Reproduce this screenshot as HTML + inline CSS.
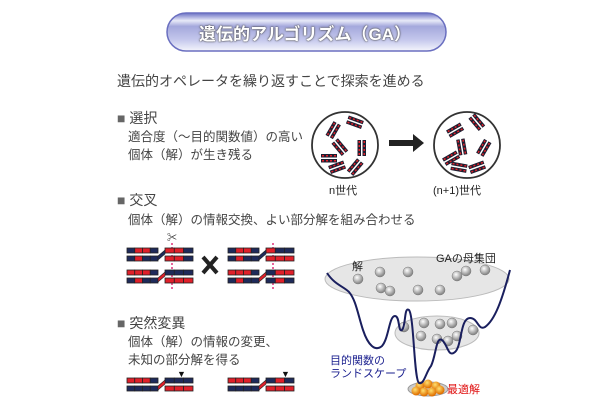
<!DOCTYPE html>
<html><head><meta charset="utf-8">
<style>
body{margin:0;background:#fff;}
#w{position:relative;width:610px;height:410px;overflow:hidden;font-family:"Liberation Sans","Noto Sans CJK JP",sans-serif;color:#444;}
.t{position:absolute;white-space:nowrap;}
</style></head><body><div id="w">
<svg width="610" height="410" style="position:absolute;left:0;top:0">
<defs>
<linearGradient id="pg" x1="0" y1="0" x2="0" y2="1">
<stop offset="0" stop-color="#6a70c4"/><stop offset="0.2" stop-color="#e8eaf8"/><stop offset="0.35" stop-color="#a4a8dc"/><stop offset="0.7" stop-color="#c4c7ec"/><stop offset="1" stop-color="#f4f5fc"/></linearGradient>
<radialGradient id="ball" cx="0.4" cy="0.35" r="0.6"><stop offset="0" stop-color="#fff"/><stop offset="1" stop-color="#888"/></radialGradient>
<radialGradient id="ob" cx="0.4" cy="0.35" r="0.6"><stop offset="0" stop-color="#ffe070"/><stop offset="1" stop-color="#e07000"/></radialGradient>
</defs>
<rect x="167" y="13" width="279" height="38" rx="19" fill="url(#pg)" stroke="#6a6fc0" stroke-width="1.5"/>
<circle cx="345" cy="145" r="33" fill="#fff" stroke="#333" stroke-width="1.8"/>
<circle cx="467" cy="145" r="33" fill="#fff" stroke="#333" stroke-width="1.8"/>
<path d="M389 140 H413 V134 L424 143 L413 152 V146 H389 Z" fill="#222"/>
<line x1="172" y1="243" x2="172" y2="290" stroke="#e0307a" stroke-width="1.5" stroke-dasharray="2,2"/>
<line x1="273" y1="243" x2="273" y2="290" stroke="#e0307a" stroke-width="1.5" stroke-dasharray="2,2"/>
<path d="M203 257 L217 273 M217 257 L203 273" stroke="#222" stroke-width="4"/>
<ellipse cx="417" cy="279" rx="92" ry="22" fill="#e6e6e6" stroke="#bbb"/>
<ellipse cx="437" cy="333" rx="42" ry="17" fill="#e6e6e6" stroke="#bbb"/>
<ellipse cx="428" cy="389" rx="20" ry="7" fill="#ccc" stroke="#999"/>
<g id="dyn"></g>
<path d="M327 273 C335 285 343 286 349 292 C356 300 358 315 363 330 C368 345 375 352 382 346 C389 338 389 316 395 316 C400 316 398 333 402 330 C406 326 404 306 409 310 C414 316 414 380 419 383 C424 385 426 372 431 366 C436 356 436 336 442 340 C448 345 448 358 455 352 C462 346 460 318 470 318 C478 318 478 331 485 327 C495 320 502 300 510 270" fill="none" stroke="#1a1f5e" stroke-width="2"/>
</svg>
<div class="t" style="left:0;width:610px;top:20px;text-align:center;font-size:17px;font-weight:bold;color:#fff;text-shadow:0 0 2px #444,0 0 1px #444">遺伝的アルゴリズム（GA）</div>
<div class="t" style="left:117px;top:71px;font-size:14px;">遺伝的オペレータを繰り返すことで探索を進める</div>
<div class="t" style="left:117px;top:108px;font-size:14px;"><span style="color:#666">■</span> 選択</div>
<div class="t" style="left:128px;top:128px;font-size:12.5px;line-height:18px;">適合度（〜目的関数値）の高い<br>個体（解）が生き残る</div>
<div class="t" style="left:329px;top:182px;font-size:11px;color:#222">n世代</div>
<div class="t" style="left:433px;top:182px;font-size:11px;color:#222">(n+1)世代</div>
<div class="t" style="left:117px;top:190px;font-size:14px;"><span style="color:#666">■</span> 交叉</div>
<div class="t" style="left:128px;top:209px;font-size:12.5px;">個体（解）の情報交換、よい部分解を組み合わせる</div>
<div class="t" style="left:167px;top:229px;font-size:10px;color:#222">✂</div>
<div class="t" style="left:117px;top:313px;font-size:14px;"><span style="color:#666">■</span> 突然変異</div>
<div class="t" style="left:128px;top:333px;font-size:12.5px;line-height:18px;">個体（解）の情報の変更、<br>未知の部分解を得る</div>
<div class="t" style="left:352px;top:258px;font-size:11px;color:#222">解</div>
<div class="t" style="left:436px;top:250px;font-size:11px;color:#222">GAの母集団</div>
<div class="t" style="left:330px;top:355px;font-size:11px;line-height:13px;color:#1a1f8e">目的関数の<br>ランドスケープ</div>
<div class="t" style="left:447px;top:381px;font-size:11px;color:#e01010">最適解</div>
<div class="t" style="left:177px;top:369px;font-size:9px;color:#111">▼</div>
<div class="t" style="left:281px;top:369px;font-size:9px;color:#111">▼</div>
</div>
<script>
var NS="http://www.w3.org/2000/svg",g=document.getElementById("dyn");
function el(t,a,p){var e=document.createElementNS(NS,t);for(var k in a)e.setAttribute(k,a[k]);(p||g).appendChild(e);return e;}
var C={B:"#1e2a5a",R:"#e0202a"};
function row(x,y,s){var xs=[0,7.75,15.5,23.25,38,47.3,56.6],ws=[7.75,7.75,7.75,7.75,9.3,9.3,9.4];
for(var i=0;i<7;i++)el("rect",{x:x+xs[i],y:y,width:ws[i],height:5,fill:C[s[i]],stroke:"#222","stroke-width":0.8});}
function chr(x,y,a,b,sw){row(x,y,a);row(x,y+8,b);el("path",{d:"M"+(x+31)+" "+(y+8)+"L"+(x+38)+" "+(y+2)+"L"+(x+38)+" "+(y+6)+"L"+(x+31)+" "+(y+12)+"Z",fill:sw?"#e0202a":"#1e2a5a",stroke:"#222","stroke-width":0.6});}
chr(127,248,"BRRBRRB","BRBBRRB");chr(127,270,"RRRBBBB","BRBBRRR",1);
chr(228,248,"BRRBRBB","BRBBRRR");chr(228,270,"RRRBBRR","BRBBBRB",1);
chr(127,378,"RRRBBBB","BBBBRRR",1);chr(228,378,"RRRBBRB","BBBBRRR",1);
function mini(cx,cy,ang){var gg=el("g",{transform:"translate("+cx+","+cy+") rotate("+ang+")"});
for(var j=0;j<2;j++){el("rect",{x:-8,y:-4+j*5,width:16,height:3.5,fill:"#1e1e30"},gg);
for(var k=0;k<4;k++)el("rect",{x:-7+k*4,y:-3+j*5,width:2,height:1.5,fill:"#e0202a"},gg);}}
[[333,130,-60],[355,122,20],[340,147,50],[329,158,0],[362,148,90],[337,167,-20],[355,167,-50]].forEach(function(p){mini(p[0],p[1],p[2]);mini(p[0]+122,p[1],p[2]+(p[2]%40?30:-30));});
[[358,279],[381,288],[408,272],[440,290],[457,276],[466,271],[380,272],[390,291],[418,290],[485,270],[404,327],[424,323],[440,324],[452,323],[421,336],[437,339],[457,336],[473,330],[448,341]].forEach(function(p){el("circle",{cx:p[0],cy:p[1],r:5,fill:"url(#ball)",stroke:"#777","stroke-width":0.5});});
[[420,386],[428,384],[436,386],[424,392],[432,392],[440,390],[416,391]].forEach(function(p){el("circle",{cx:p[0],cy:p[1],r:4.5,fill:"url(#ob)"});});
</script>
</body></html>
